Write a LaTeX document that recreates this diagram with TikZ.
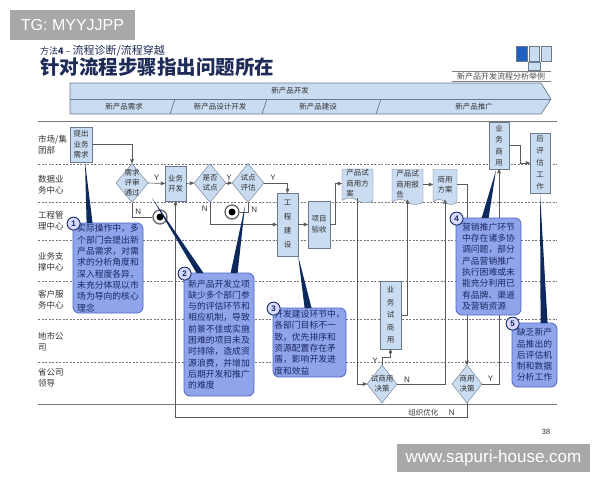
\documentclass[tikz,border=0pt]{standalone}
\usepackage{fontspec}
\setsansfont{Liberation Sans}
\newfontfamily\cjk{Noto Sans CJK SC}
\usetikzlibrary{calc}
\usetikzlibrary{arrows}
\usetikzlibrary{shapes.geometric,shapes.symbols}
\usepackage{xcolor}
\definecolor{boxblue}{HTML}{CADCF2}
\definecolor{boxline}{HTML}{6B7B8C}
\definecolor{callblue}{HTML}{8FA4EA}
\definecolor{callline}{HTML}{4F66C4}
\definecolor{navy}{HTML}{0E2A5C}
\definecolor{inkblue}{HTML}{1A2865}
\definecolor{titleblue}{HTML}{1E2B57}
\definecolor{legblue}{HTML}{1F5FBF}
\definecolor{wmgray}{HTML}{A8A8A8}
\definecolor{lanegray}{HTML}{777777}

\begin{document}
\begin{tikzpicture}[x=1pt, y=-1pt,
  box/.style={draw=boxline, fill=boxblue, inner sep=0, align=center, text=black!80,
    font=\cjk\fontsize{7.5}{10.5}\selectfont},
  vbox/.style={box, font=\cjk\fontsize{7.5}{#1}\selectfont},
  docbox/.style={box, tape, tape bend top=none, tape bend bottom=out and in, tape bend height=5, align=left},
  dia/.style={diamond, draw=boxline, fill=boxblue, inner sep=0, minimum width=32, minimum height=39},
  dtext/.style={align=center, inner sep=0, text=black!80, font=\cjk\fontsize{7.5}{10}\selectfont},
  endpt/.style={circle, draw=black!60, fill=white, line width=1.3, minimum size=14, inner sep=0,
    path picture={\fill[black] (path picture bounding box.center) circle (3.5pt);}},
  line/.style={draw=black!65, line width=.6},
  flow/.style={line, ->, >=stealth'},
  yn/.style={font=\sffamily\fontsize{8}{8}\selectfont, text=black!80, inner sep=1},
  lanelbl/.style={anchor=west, align=left, inner sep=0, text=black!80, font=\cjk\fontsize{8.5}{11}\selectfont},
  phase/.style={inner sep=0, text=black!80, font=\cjk\fontsize{7.5}{7.5}\selectfont},
  callout/.style={draw=callline, fill=callblue, rounded corners=6, line width=.8, align=left, inner sep=1,
    text=inkblue, font=\cjk\fontsize{8.8}{11.3}\selectfont},
  badge/.style={circle, draw=navy, fill=blue!15, line width=.9, minimum size=13, inner sep=0,
    text=navy, font=\sffamily\bfseries\fontsize{8}{8}\selectfont},
  ptr/.style={fill=navy}]
\useasboundingbox (0,0) rectangle (600,480);
\fill[white] (0,0) rectangle (600,480);

% header
\node[fill=wmgray, text=white, minimum width=125, minimum height=30, inner sep=0,
  font=\sffamily\fontsize{16}{16}\selectfont] (tg) at (72.5,25) {TG: MYYJJPP};
\node[anchor=west, inner sep=0, text=titleblue, font=\cjk\fontsize{9}{9}\selectfont] (sub) at (40,51)
  {方法\textbf{4} – {\fontsize{11}{11}\selectfont 流程诊断/流程穿越}};
\node[anchor=west, inner sep=0, text=titleblue, font=\cjk\bfseries\fontsize{19.5}{20}\selectfont] (title) at (40,67) {针对流程步骤指出问题所在};

% legend
\draw[boxline, fill=legblue] (516,46) rectangle (527,61);
\draw[boxline, fill=boxblue] (529,46) rectangle (539,61);
\draw[boxline, fill=boxblue] (541,46) rectangle (551,61);
\draw[boxline, fill=boxblue] (528,62) rectangle (540,70);
\draw[black!50] (452,71.5) -- (551,71.5);
\draw[black!50, line width=1] (452,81.5) -- (551,81.5);
\node[inner sep=0, text=black!70, font=\cjk\fontsize{8}{8}\selectfont] (legend) at (501,76.5) {新产品开发流程分析举例};

% phase bar
\draw[boxline, fill=boxblue, line width=.7] (70,83) -- (541,83) -- (551,99) -- (541,114) -- (70,114) -- cycle;
\draw[boxline, line width=.7] (70,99) -- (551,99);
\foreach \x in {170,262,376}
  \draw[boxline, line width=.7] (\x+5,99) -- (\x,114);
\node[phase] (ph0) at (290,91) {新产品开发};
\foreach \x/\t [count=\i] in {124/新产品需求, 220/新产品设计开发, 318/新产品建设, 474/新产品推广}
  \node[phase] (ph\i) at (\x,106.5) {\t};

% lanes
\draw[lanegray, line width=1] (38,121.5) -- (557,121.5);
\foreach \y in {164,202,240,281,319,362}
  \draw[lanegray, dash pattern=on 2pt off 1.5pt, line width=.6] (38,\y) -- (557,\y);
\draw[lanegray, line width=1] (38,404) -- (557,404);
\foreach \y/\t [count=\i] in {145/{市场{/}集\\团部}, 185/{数据业\\务中心}, 221/{工程管\\理中心}, 262/{业务支\\撑中心}, 300/{客户服\\务中心}, 342/{地市公\\司}, 378/{省公司\\领导}}
  \node[lanelbl] (lane\i) at (38,\y) {\t};

% steps
\node[box, minimum width=22, minimum height=35] (req) at (81,144.5) {提出\\业务\\需求};
\node[dia, label={[dtext]center:{需求\\评审\\通过}}] (d1) at (132,183) {};
\node[box, minimum width=21, minimum height=35] (dev) at (175.5,183.5) {业务\\开发};
\node[dia, label={[dtext]center:{是否\\试点}}] (d2) at (210,183) {};
\node[dia, label={[dtext]center:{试点\\评估}}] (d3) at (248,183) {};
\node[endpt] (end1) at (160,217) {};
\node[endpt] (end2) at (232,212) {};
\node[vbox=14, minimum width=21, minimum height=63] (build) at (287.5,224.5) {工\\程\\建\\设};
\node[box, minimum width=22, minimum height=47] (check) at (319,224.5) {项目\\验收};
\node[docbox, minimum width=31, minimum height=34] (plan) at (357.5,183.5) {产品试\\商用方\\案};
\node[docbox, minimum width=31, minimum height=35] (report) at (407.5,184.5) {产品试\\商用报\\告};
\node[docbox, minimum width=24, minimum height=35] (cplan) at (445,184.5) {商用\\方案};
\node[vbox=12.5, minimum width=21, minimum height=68] (trial) at (390.5,315) {业\\务\\试\\商\\用};
\node[dia, minimum width=30, minimum height=38, label={[dtext]center:{试商用\\决策}}] (d4) at (382,384) {};
\node[dia, minimum width=30, minimum height=38, label={[dtext]center:{商用\\决策}}] (d5) at (467,384) {};
\node[vbox=11.5, minimum width=20, minimum height=47] (comm) at (499,145.5) {业\\务\\商\\用};
\node[vbox=12, minimum width=20, minimum height=60] (post) at (540,163) {后\\评\\估\\工\\作};
\coordinate (loop) at (175.5,417);

% connectors
\draw[flow] (req.east) -| (d1.north);
\draw[flow] (d1.east) -- node[yn, above=1] (y1) {Y} (dev.west);
\draw[line] (d1.south) |- node[yn, pos=.3, right=2] (n1) {N} (end1.west);
\draw[flow] (dev.east) -- (d2.west);
\draw[flow] (d2.east) -- node[yn, above=1] (y2) {Y} (d3.west);
\draw[flow] (d2.south) |- node[yn, pos=.15, left=1] (n2) {N} (build.west);
\draw[flow] (d3.east) -| node[yn, pos=.19, above=1] (y3) {Y} (build.north);
\draw[line] (d3.south) |- node[yn, pos=.4, right=2] (n3) {N} (end2.east);
\draw[flow] (build.east) -- (check.west);
\draw[flow] (check.east) -- ++(5,0) |- (plan.west);
\draw[flow] (plan.south) |- (d4.west);
\draw[flow] (d4.north) -- node[yn, left=3] (y4) {Y} ++(0,-8) -| (trial.south);
\draw[flow] (d4.east) -| node[yn, pos=.06, above right=0] (n4) {N} (cplan.south);
\draw[flow] (trial.east) -| (report.south);
\draw[flow] (report.east) -- (cplan.west);
\draw[flow] (cplan.east) -| (d5.north);
\draw[flow] (d5.east) -| node[yn, pos=.25, above=1] (y5) {Y} (comm.south);
\draw[flow] (d5.south) |- node[yn, pos=.526, above] (n5) {N}
  node[pos=.575, above, inner sep=1, text=black!75, font=\cjk\fontsize{7.5}{7.5}\selectfont] (opt) {组织优化} (loop) -- (dev.south);
\draw[flow] (comm.east) -- ++(11,0) |- (post.west);

% problem callouts
\node[callout, minimum width=70, minimum height=90] (c1) at (108,268) {实际操作中，多\\个部门会提出新\\产品需求，对需\\求的分析角度和\\深入程度各异，\\未充分体现以市\\场为导向的核心\\理念};
\node[callout, minimum width=70, minimum height=123] (c2) at (219,334.5) {新产品开发立项\\缺少多个部门参\\与的评估环节和\\相应机制，导致\\前景不佳或实施\\困难的项目未及\\时排除，造成资\\源浪费，并增加\\后期开发和推广\\的难度};
\node[callout, minimum width=73, minimum height=69] (c3) at (309.5,342.5) {开发建设环节中，\\各部门目标不一\\致，优先排序和\\资源配置存在矛\\盾，影响开发进\\度和效益};
\node[callout, minimum width=65, minimum height=97] (c4) at (488.5,266.5) {营销推广环节\\中存在诸多协\\调问题，部分\\产品营销推广\\执行困难或未\\能充分利用已\\有品牌、渠道\\及营销资源};
\node[callout, minimum width=45, minimum height=64] (c5) at (534.5,355) {缺乏新产\\品推出的\\后评估机\\制和数据\\分析工作};

\fill[ptr] ($(req.south)+(4,0)$) -- ($(c1.north west)+(20,.5)$) -- ($(c1.north west)+(14,.5)$) -- cycle;
\fill[ptr] ($(end1.center)+(-8,-19)$) -- ($(c2.north west)+(20,.5)$) -- ($(c2.north west)+(13,.5)$) -- cycle;
\fill[ptr] ($(d3.south)+(-3,3)$) -- ($(c2.north west)+(54,.5)$) -- ($(c2.north west)+(47,.5)$) -- cycle;
\fill[ptr] (build.south east) -- ($(c3.north west)+(39,.5)$) -- ($(c3.north west)+(32,.5)$) -- cycle;
\fill[ptr] ($(comm.south)+(-3,1)$) -- ($(c4.north west)+(33,.5)$) -- ($(c4.north west)+(26,.5)$) -- cycle;
\fill[ptr] (post.south) -- ($(c5.north west)+(36,.5)$) -- ($(c5.north west)+(29,.5)$) -- cycle;
\foreach \i in {1,...,5}
  \node[badge] (num\i) at ($(c\i.north west)+(1,1)$) {\i};

% footer
\node[inner sep=0, font=\sffamily\fontsize{7.5}{7.5}\selectfont, text=black!80] (page) at (546,432) {38};
\node[fill=wmgray, text=white, minimum width=193, minimum height=28, inner sep=0,
  font=\sffamily\fontsize{17}{17}\selectfont] (wm) at (493.5,458) {www.sapuri-house.com};
\end{tikzpicture}
\end{document}
